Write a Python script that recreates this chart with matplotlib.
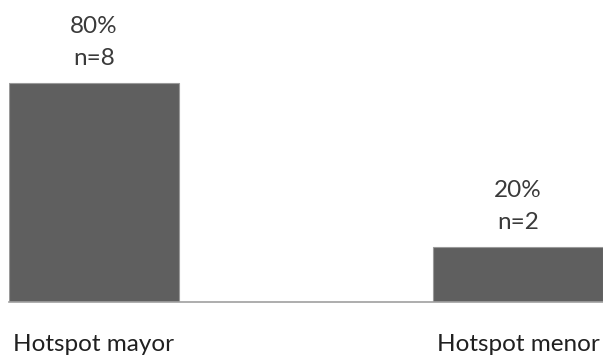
import matplotlib
matplotlib.use("Agg")
import matplotlib.pyplot as plt

categories = ["Hotspot mayor", "Hotspot menor"]
percentages = [80, 20]
counts = [8, 2]

plt.rcParams["font.family"] = ["Lato", "DejaVu Sans"]

fig = plt.figure(figsize=(6.03, 3.55), dpi=100)
ax = fig.add_axes([9 / 603, 53 / 355, 594 / 603, 302 / 355])

x = list(range(len(categories)))
ax.bar(x, percentages, width=0.4, color="#5f5f5f", edgecolor="#9a9a9a", linewidth=0.8)

ax.set_xlim(-0.2, 1.2)
ax.set_ylim(0, 110.3)

for xi, p, n in zip(x, percentages, counts):
    ax.annotate(f"{p}%\nn={n}", xy=(xi, p), xytext=(0, 10), textcoords="offset points",
                ha="center", va="bottom", fontsize=17.5, color="#3a3a3a", linespacing=1.65)

ax.set_xticks(x)
ax.set_xticklabels(categories, fontsize=17.5, color="#202020")
ax.tick_params(axis="x", length=0, pad=23)
ax.set_yticks([])
for side in ["left", "right", "top"]:
    ax.spines[side].set_visible(False)
ax.spines["bottom"].set_color("#a0a0a0")
ax.spines["bottom"].set_linewidth(1.2)

fig.savefig("out.png", dpi=100)
